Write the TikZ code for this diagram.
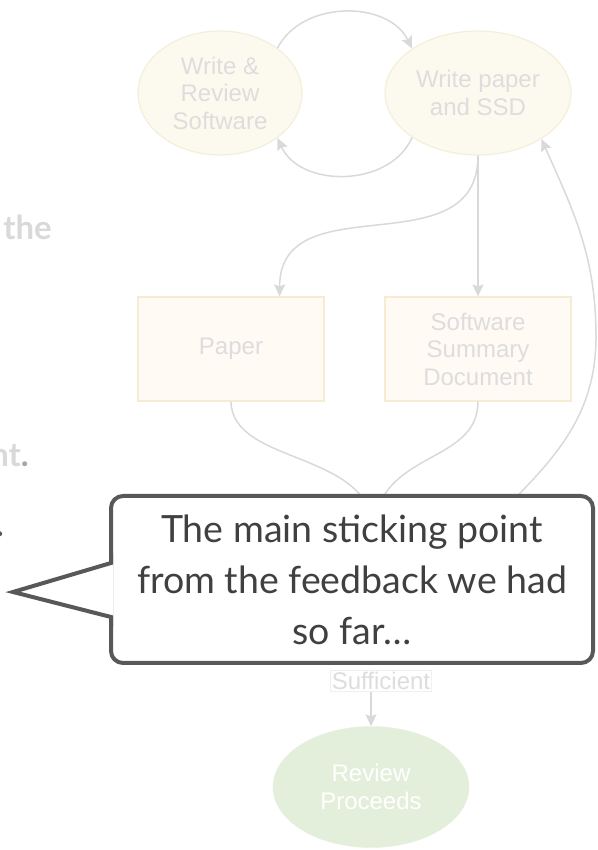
\documentclass[tikz,border=0pt]{standalone}
\usepackage{fontspec}
\setmainfont{Liberation Sans}
\newfontfamily\callfont{Lato}
\usetikzlibrary{arrows.meta,shapes.geometric}
\definecolor{edgecol}{HTML}{D9D9D9}
\definecolor{ellfill}{HTML}{FCFAEF}
\definecolor{ellborder}{HTML}{F4EFDB}
\definecolor{boxfill}{HTML}{FFFAF3}
\definecolor{boxborder}{HTML}{F7EBD4}
\definecolor{nodetext}{HTML}{DDDDDD}
\definecolor{greenfill}{HTML}{E4EFDB}
\definecolor{callline}{HTML}{585858}
\definecolor{calltext}{HTML}{404040}
\definecolor{bgtext}{HTML}{D9D9D9}
\begin{document}
\begin{tikzpicture}[x=1pt,y=1pt,
  ell/.style={ellipse, draw=ellborder, fill=ellfill, text=nodetext, align=center,
    inner sep=0pt, line width=1.2pt, font=\fontsize{24}{27.5}\selectfont},
  doc/.style={rectangle, draw=boxborder, fill=boxfill, text=nodetext, align=center,
    inner sep=0pt, line width=1.2pt, minimum width=186, minimum height=104,
    font=\fontsize{24}{27.5}\selectfont},
  flow/.style={draw=edgecol, line width=1.5pt, -{Stealth[length=12pt,width=11pt,inset=2pt]}},
  plain/.style={draw=edgecol, line width=1.5pt},
  callbox/.style={rectangle, rounded corners=12pt, draw=callline, line width=4pt, fill=white,
    text=calltext, align=center, minimum width=482, minimum height=167,
    font=\callfont\fontsize{37.5}{51}\selectfont},
  bg/.style={text=bgtext, inner sep=0pt, font=\callfont\bfseries\fontsize{33}{36}\selectfont}
]
\useasboundingbox (0,0) rectangle (597,850);
\clip (0,0) rectangle (597,850);

% background slide text (cut at the left edge)
\node[bg, anchor=base east] (t1) at (52,610) {the};
\node[bg, anchor=base east] (t2) at (29,383) {nt\textcolor{gray!70}{.}};
\node[bg, anchor=base east, text=callline] (t3) at (4,313) {.};

% nodes
\node[ell, minimum width=164, minimum height=124] (wr) at (220,757) {Write \&\\Review\\Software};
\node[ell, minimum width=186, minimum height=124] (wp) at (478,757) {Write paper\\and SSD};
\node[doc] (paper) at (231,501) {Paper};
\node[doc] (ssd) at (478,501) {Software\\Summary\\Document};
\node[ellipse, fill=greenfill, draw=greenfill, text=white, align=center, inner sep=0pt,
  minimum width=196, minimum height=121, font=\fontsize{24}{27.5}\selectfont] (rev) at (371,63) {Review\\Proceeds};
\node[draw=black!6, fill=white, text=nodetext, inner sep=1.5pt,
  font=\fontsize{24}{27}\selectfont] (suff) at (381,169) {Sufficient};

\coordinate (m) at (374,320);
\coordinate (r) at (480,317);
\coordinate (rr) at (596,513);

% connectors
\draw[flow] (wr.38) .. controls (302,850) and (388,850) .. (wp.146);
\draw[flow] (wp.214) .. controls (390,662) and (300,662) .. (wr.322);
\draw[flow] (wp.south) -- (ssd.north);
\draw[flow] (wp.south) to[out=-90,in=90,looseness=1.2] ([xshift=-45pt]paper.north east);
\draw[plain] (paper.south) .. controls (232,385) and (370,400) .. (m);
\draw[plain] (ssd.south) .. controls (478,385) and (378,400) .. (m);
\draw[flow] (r) to[out=45,in=-90] (rr) to[out=90,in=-66] (wp.-36);
\draw[flow] (rev.north |- suff.south) -- (rev.north);

% callout
\node[callbox] (call) at (352,270.5) {The main sticking point\\from the feedback we had\\so far…};
\fill[white] (113,287) -- (13,258) -- (113,233) -- cycle;
\draw[callline, line width=4pt, line join=miter] (111,297) -- (111,287) -- (13,258) -- (111,233) -- (111,223);
\end{tikzpicture}
\end{document}
